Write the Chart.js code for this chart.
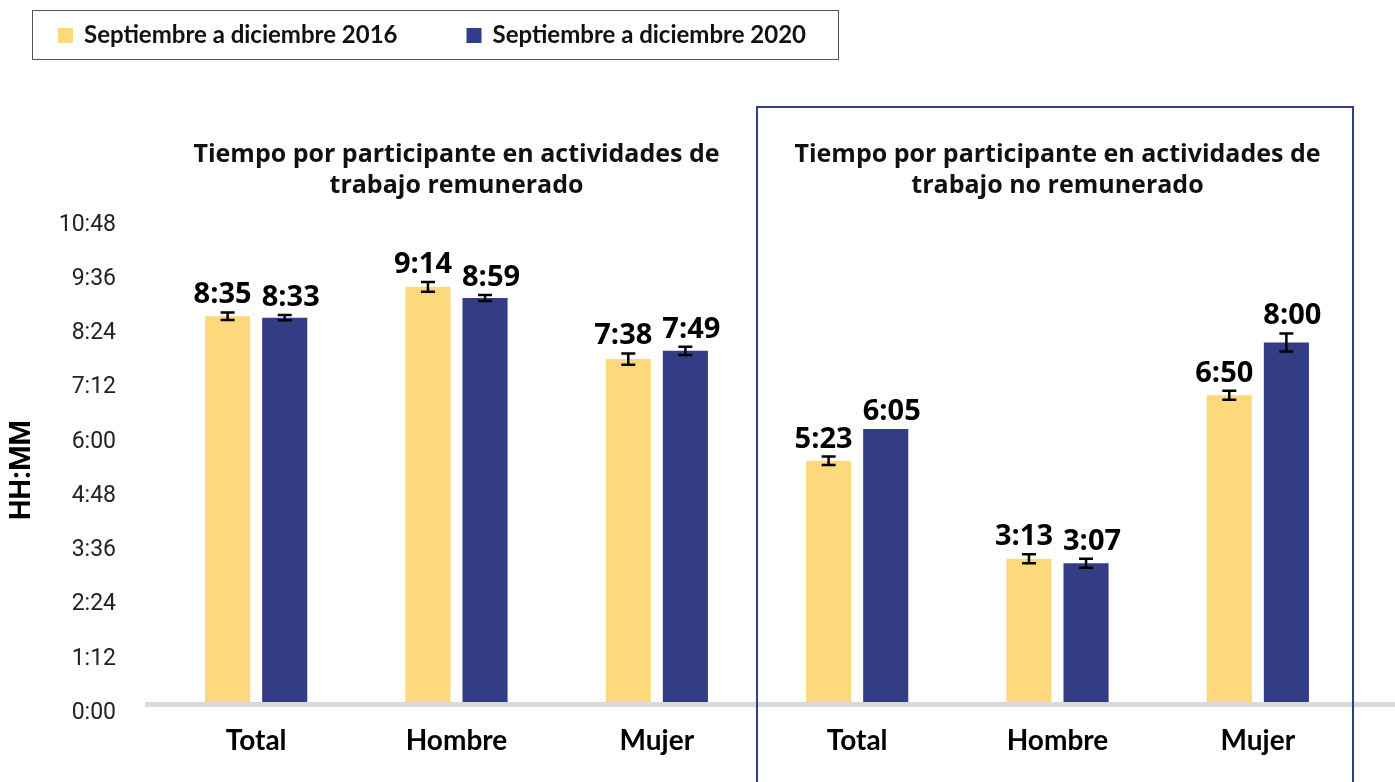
<!DOCTYPE html>
<html><head><meta charset="utf-8">
<script src="https://cdn.jsdelivr.net/npm/chart.js@4.4.1/dist/chart.umd.min.js"></script>
<style>html,body{margin:0;padding:0;background:#fff}canvas{display:block}</style>
</head><body>
<canvas id="c" width="1395" height="782"></canvas>
<script>
// ---- data (minutes) ----
const categories = ['Total', 'Hombre', 'Mujer', 'Total', 'Hombre', 'Mujer'];
const seriesNames = ['Septiembre a diciembre 2016', 'Septiembre a diciembre 2020'];
const values2016 = [515, 554, 458, 323, 193, 410];
const values2020 = [513, 539, 469, 365, 187, 480];
const errors2016 = [5, 6.5, 7.5, 5.5, 6, 6];
const errors2020 = [3.5, 4, 5.5, 0, 6, 12];
const yTickValues = [0, 72, 144, 216, 288, 360, 432, 504, 576, 648];
const yTickLabels = ['0:00', '1:12', '2:24', '3:36', '4:48', '6:00', '7:12', '8:24', '9:36', '10:48'];
const groupTitles = [
  ['Tiempo por participante en actividades de', 'trabajo remunerado'],
  ['Tiempo por participante en actividades de', 'trabajo no remunerado']
];
const yAxisTitle = 'HH:MM';

const colors = ['#FED97B', '#333D85'];
const labelShift = [-5, 6];
const fmt = m => Math.floor(m / 60) + ':' + String(Math.round(m % 60)).padStart(2, '0');

const extras = {
  id: 'extras',
  afterDatasetsDraw(chart) {
    const { ctx, scales: { x, y } } = chart;
    ctx.save();
    // baseline
    const y0 = y.getPixelForValue(0);
    ctx.fillStyle = '#d9d9d9';
    ctx.fillRect(145, y0 - 2, chart.width - 145, 5);
    // error bars + labels
    chart.data.datasets.forEach((ds, di) => {
      const meta = chart.getDatasetMeta(di);
      meta.data.forEach((bar, i) => {
        const v = ds.data[i], e = ds.errors[i];
        let top = bar.y;
        if (e > 0) {
          const yt = y.getPixelForValue(v + e), yb = y.getPixelForValue(v - e);
          ctx.strokeStyle = '#000'; ctx.lineWidth = 2.5;
          ctx.beginPath();
          ctx.moveTo(bar.x, yt); ctx.lineTo(bar.x, yb);
          ctx.moveTo(bar.x - 7, yt); ctx.lineTo(bar.x + 7, yt);
          ctx.moveTo(bar.x - 7, yb); ctx.lineTo(bar.x + 7, yb);
          ctx.stroke();
          top = yt;
        }
        ctx.fillStyle = '#000';
        ctx.font = 'bold 29px "Open Sans"';
        ctx.textAlign = 'center';
        ctx.textBaseline = 'alphabetic';
        ctx.fillText(fmt(v), bar.x + labelShift[di], top - 9);
      });
    });
    // framed second group
    const p2 = x.getPixelForValue(2), p3 = x.getPixelForValue(3);
    const p4 = x.getPixelForValue(4), p5 = x.getPixelForValue(5);
    const left = (p2 + p3) / 2;
    const right = p5 + 0.475 * (p5 - p4);
    ctx.strokeStyle = '#333D85'; ctx.lineWidth = 2;
    ctx.strokeRect(left, 107, right - left, chart.height + 10);
    // group titles
    ctx.fillStyle = '#111';
    ctx.font = 'bold 25px "Open Sans"';
    ctx.textAlign = 'center';
    ctx.textBaseline = 'middle';
    [1, 4].forEach((idx, g) => {
      const cx = x.getPixelForValue(idx);
      groupTitles[g].forEach((line, li) => ctx.fillText(line, cx, 155 + li * 31));
    });
    // y axis title
    ctx.save();
    ctx.translate(23, 470);
    ctx.rotate(-Math.PI / 2);
    ctx.font = 'bold 29px Roboto';
    ctx.fillStyle = '#000';
    ctx.fillText(yAxisTitle, 0, 0);
    ctx.restore();
    // legend
    ctx.font = 'bold 24px Lato';
    ctx.textAlign = 'left';
    ctx.textBaseline = 'middle';
    let cx = 58;
    chart.data.datasets.forEach((ds, di) => {
      ctx.fillStyle = ds.backgroundColor;
      ctx.fillRect(cx, 28, 15, 15);
      ctx.fillStyle = '#111';
      ctx.fillText(ds.label, cx + 26, 35);
      cx += 26 + ctx.measureText(ds.label).width + (di === 0 ? 69 : 0);
    });
    ctx.strokeStyle = '#555'; ctx.lineWidth = 1;
    ctx.strokeRect(32.5, 10.5, cx, 49);
    ctx.restore();
  }
};

new Chart(document.getElementById('c'), {
  type: 'bar',
  data: {
    labels: categories,
    datasets: [
      { label: seriesNames[0], data: values2016, errors: errors2016, backgroundColor: colors[0],
        categoryPercentage: 0.57, barPercentage: 0.79 },
      { label: seriesNames[1], data: values2020, errors: errors2020, backgroundColor: colors[1],
        categoryPercentage: 0.57, barPercentage: 0.79 }
    ]
  },
  options: {
    responsive: false,
    animation: false,
    layout: { padding: { top: 216, right: 37, left: 0, bottom: 0 } },
    plugins: { legend: { display: false }, tooltip: { enabled: false } },
    scales: {
      x: {
        grid: { display: false },
        border: { display: false },
        ticks: { color: '#000', font: { family: 'Lato', weight: 'bold', size: 28 }, padding: 12 },
        afterFit: s => { s.height = 78; }
      },
      y: {
        min: 0, max: 648,
        afterBuildTicks: s => { s.ticks = yTickValues.map(v => ({ value: v })); },
        grid: { display: false, drawTicks: false },
        border: { display: false },
        ticks: {
          color: '#222', font: { family: 'Roboto', size: 23 }, padding: 40, labelOffset: 9,
          callback: (v) => yTickLabels[yTickValues.indexOf(v)]
        },
        title: { display: false, text: yAxisTitle },
        afterFit: s => { s.width = 156; }
      }
    }
  },
  plugins: [extras]
});
</script>
</body></html>
